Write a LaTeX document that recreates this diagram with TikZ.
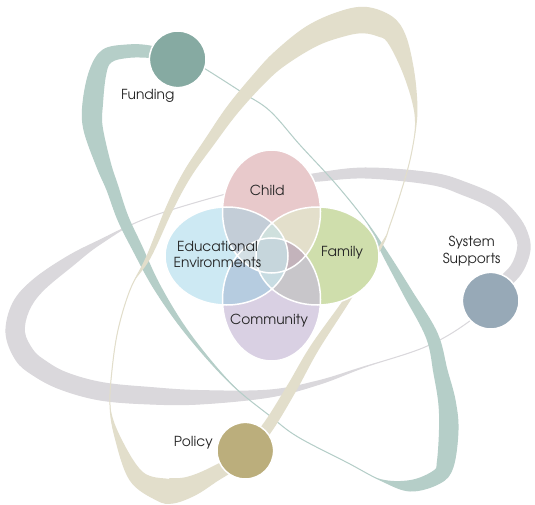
\documentclass[tikz,border=0pt]{standalone}
\usepackage{fontspec}
\setmainfont{TeX Gyre Adventor}
\usetikzlibrary{calc}
\definecolor{tealband}{RGB}{181,206,200}
\definecolor{beigeband}{RGB}{226,222,203}
\definecolor{greyband}{RGB}{218,216,220}
\definecolor{fundc}{RGB}{134,170,162}
\definecolor{sysc}{RGB}{151,169,183}
\definecolor{polc}{RGB}{187,174,124}
\definecolor{txt}{RGB}{38,38,38}
\definecolor{cChild}{RGB}{232,201,203}
\definecolor{cFam}{RGB}{207,222,172}
\definecolor{cCom}{RGB}{217,208,227}
\definecolor{cEdu}{RGB}{205,233,243}
\definecolor{cCE}{RGB}{195,205,215}
\definecolor{cCF}{RGB}{227,223,203}
\definecolor{cEM}{RGB}{182,204,224}
\definecolor{cFM}{RGB}{200,198,202}
\definecolor{cCEF}{RGB}{207,224,221}
\definecolor{cCFM}{RGB}{195,179,187}
\definecolor{cEFM}{RGB}{200,220,226}
\definecolor{cCEM}{RGB}{212,224,229}
\definecolor{cQ}{RGB}{198,214,220}

% #1 name, #2 list of x/y/w (outer contour, clockwise), #3 colour
\newcommand\mkorbit[3]{%
  \gdef\orblistO{}\gdef\orblistI{}%
  \foreach [count=\k] \px/\py/\pw in {#2} {%
    \coordinate (#1-o\k) at (\px,\py);
    \xdef\orbN{\k}%
  }%
  \foreach [count=\k] \px/\py/\pw in {#2} {%
    \pgfmathtruncatemacro\kp{ifthenelse(\k==1,\orbN,\k-1)}%
    \pgfmathtruncatemacro\kn{ifthenelse(\k==\orbN,1,\k+1)}%
    \coordinate (#1-t) at ($(#1-o\kp)!\pw pt!-90:(#1-o\kn)$);
    \coordinate (#1-i\k) at ($(#1-o\k)+(#1-t)-(#1-o\kp)$);
    \xdef\orblistO{\orblistO (#1-o\k)}%
    \xdef\orblistI{\orblistI (#1-i\k)}%
  }%
  \xdef\orbpathO{plot[smooth cycle, tension=0.6] coordinates {\orblistO}}%
  \xdef\orbpathI{plot[smooth cycle, tension=0.6] coordinates {\orblistI}}%
  \begin{scope}
    \clip \orbpathO;
    \fill[#3, even odd rule] \orbpathO \orbpathI;
  \end{scope}
  \draw[#3, line width=1pt] \orbpathO;
}

\begin{document}
\begin{tikzpicture}[x=1pt,y=-1pt,
  lbl/.style={text=txt, font=\fontsize{13.8pt}{16.7pt}\selectfont, align=center, inner sep=0pt},
  hub/.style={circle, draw=white, line width=1.5pt, minimum size=56.6pt, inner sep=0pt},
  vennline/.style={draw=white, line width=1.5pt}]
\fill[white] (0,0) rectangle (535,505);
\useasboundingbox (0,0) rectangle (535,505);

% ---------- grey orbit ----------
\mkorbit{G}{6/333/19, 13/303/18, 33/280/15, 66.7/257/11, 100/240/4, 150/217/-1,
  222/195/-1, 270/183/1, 313/174/8, 365/168/10.5, 432/173/12, 467/183/13,
  498/197/13, 517/215/13, 527/232/12.5, 530/250/13, 522/272/13, 505/290/12,
  467/323/-1, 425/347/-1, 365/367/1, 320/384/4, 270/397/7.5, 200/404/14,
  150/404/17, 100/400/18, 60/389/18, 33/375/19, 16/360/20}{greyband}

% ---------- teal orbit ----------
\mkorbit{T}{103/50/15, 127/45/13, 150/46/12, 180/54/7, 207/70/-1, 243/93/-1,
  270/111/-1, 300/145/-1, 335/183/-1, 365/220/0, 387/252/5.5, 411/290/9,
  437/333/12, 447/370/14, 455/400/17, 458/430/19, 453/467/17, 440/483/14,
  410/491/11, 380/480/1, 348/463/-1, 298/437/-1, 270/416/-1, 230/383/0.8,
  187/335/3.5, 155/290/7, 133/250/10, 118/220/11, 107/190/12, 97/167/14.5,
  84/130/19, 83/103/20, 90/70/17}{tealband}

% ---------- beige orbit ----------
\mkorbit{B}{340/11.7/25, 366.7/7.5/26, 392/17/24, 405/35/19, 413/67/12,
  416.7/100/5, 416/125/1, 410/160/-1, 400/195/-1, 390/225/-1, 381/248/2.5,
  350/300/5.5, 318/350/8.5, 295/392/10, 270/433/11, 245/462/13, 216.7/481/15,
  195/495/20, 173/503/25, 156.7/500/24, 130/480/15, 115/437/5, 110/405/0,
  112/370/-1, 118/330/-1, 130/290/-1, 146.7/256.7/4, 166.7/206.7/7,
  184/172/8.5, 205/140/10, 228/106/12, 255/73.3/14, 275/52/17, 306.7/26.7/22}{beigeband}

% ---------- Venn ----------
\def\Ce{(271.5,211.5) ellipse [x radius=49pt, y radius=61.5pt]}
\def\Me{(271.5,299.5) ellipse [x radius=49pt, y radius=61.5pt]}
\def\Ee{(226.5,256) ellipse [x radius=61.5pt, y radius=49pt]}
\def\Fe{(317.5,256) ellipse [x radius=61.5pt, y radius=49pt]}
\fill[cChild] \Ce;
\fill[cFam] \Fe;
\fill[cCom] \Me;
\fill[cEdu] \Ee;
\begin{scope}\clip \Ce; \fill[cCE] \Ee; \fill[cCF] \Fe; \end{scope}
\begin{scope}\clip \Me; \fill[cEM] \Ee; \fill[cFM] \Fe; \end{scope}
\begin{scope}\clip \Ee; \clip \Fe; \fill[cCEF] \Ce; \fill[cEFM] \Me; \end{scope}
\begin{scope}\clip \Ce; \clip \Me; \fill[cCEM] \Ee; \fill[cCFM] \Fe; \end{scope}
\begin{scope}\clip \Ce; \clip \Me; \clip \Ee; \fill[cQ] \Fe; \end{scope}
\draw[vennline] \Ce \Fe \Me \Ee;

\node[lbl] (child) at (267.3,190) {Child};
\node[lbl] (family) at (342,252.7) {Family};
\node[lbl] (edu) at (217.5,254.5) {Educational\\Environments};
\node[lbl] (community) at (269,320.7) {Community};

% ---------- hubs ----------
\node[hub, fill=fundc] (funding) at (177.7,59.3) {};
\node[hub, fill=sysc] (system) at (490.7,300.7) {};
\node[hub, fill=polc] (policy) at (245.3,450.7) {};
\node[lbl] (fundingLbl) at (147.7,96) {Funding};
\node[lbl] (systemLbl) at (471.7,251.3) {System\\Supports};
\node[lbl] (policyLbl) at (193.3,442.7) {Policy};
\end{tikzpicture}
\end{document}
